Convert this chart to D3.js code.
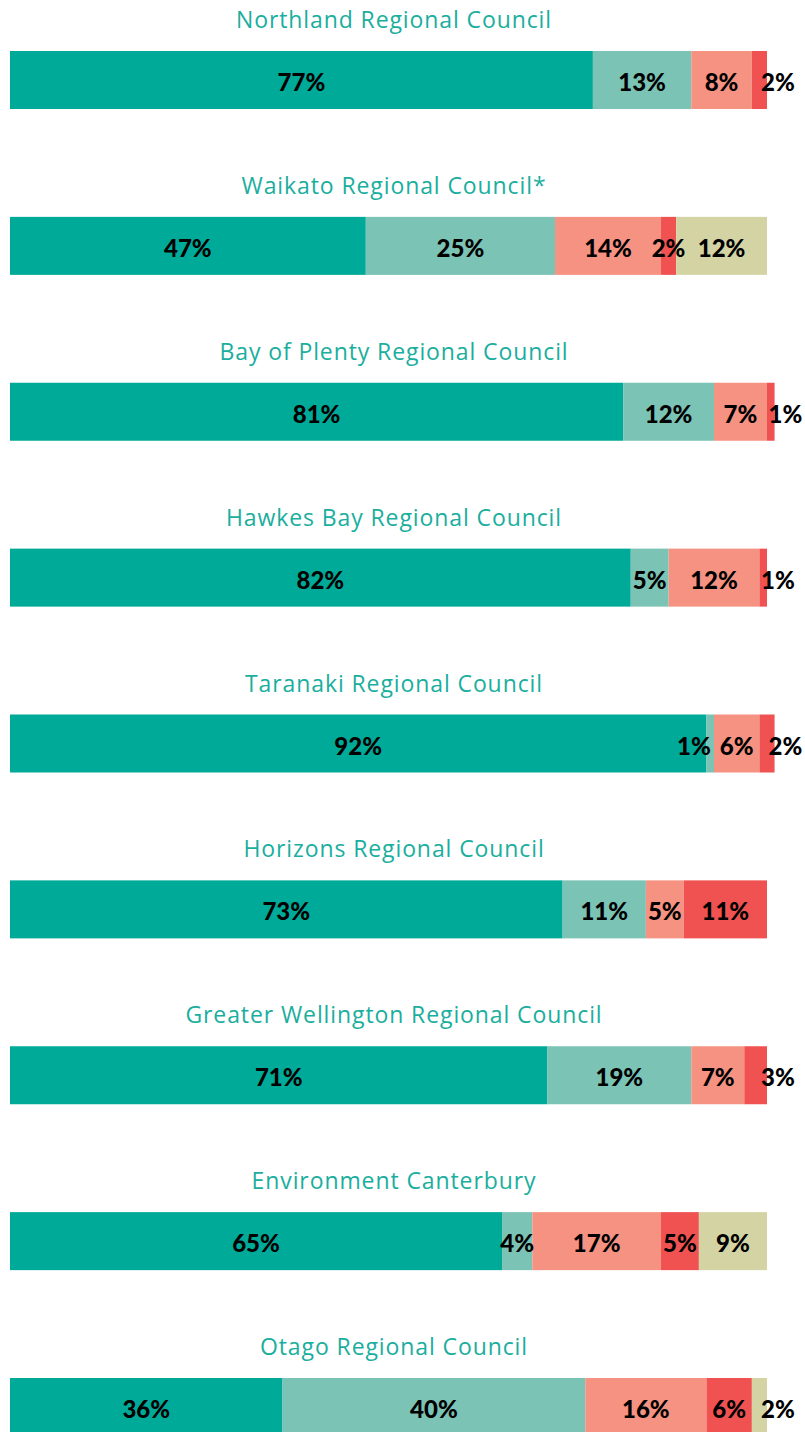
<!DOCTYPE html>
<html>
<head>
<meta charset="utf-8">
<script src="https://cdn.jsdelivr.net/npm/d3@7"></script>
<style>
  body { margin: 0; background: #fff; }
  svg { display: block; }
</style>
</head>
<body>
<svg id="chart" width="805" height="1432"></svg>
<script>
// council names, top to bottom
var councils = [
  "Northland Regional Council",
  "Waikato Regional Council*",
  "Bay of Plenty Regional Council",
  "Hawkes Bay Regional Council",
  "Taranaki Regional Council",
  "Horizons Regional Council",
  "Greater Wellington Regional Council",
  "Environment Canterbury",
  "Otago Regional Council"
];
// percentage per segment, one array for each colour band
var band1 = [77, 47, 81, 82, 92, 73, 71, 65, 36];
var band2 = [13, 25, 12, 5, 1, 11, 19, 4, 40];
var band3 = [8, 14, 7, 12, 6, 5, 7, 17, 16];
var band4 = [2, 2, 1, 1, 2, 11, 3, 5, 6];
var band5 = [0, 12, 0, 0, 0, 0, 0, 9, 2];
var bandColors = ["#00aa98", "#7ac3b5", "#f69282", "#f05252", "#d4d3a3"];

var bands = [band1, band2, band3, band4, band5];

var svg = d3.select("#chart");
var barH = 58;

var x = d3.scaleLinear().domain([0, 100]).range([10, 767]);
var y = d3.scalePoint().domain(councils).range([51, 1378]);

//build rows with stacked segments
var rows = councils.map(function(c, i) {
  var acc = 0;
  var segs = [];
  bands.forEach(function(b, j) {
    if (b[i] > 0) {
      segs.push({ v: b[i], x0: acc, x1: acc + b[i], color: bandColors[j] });
      acc += b[i];
    }
  });
  return { name: c, segs: segs };
});

var row = svg.selectAll(".row")
  .data(rows)
  .enter().append("g")
  .attr("class", "row")
  .attr("transform", function(d) { return "translate(0," + y(d.name) + ")"; });

row.append("text")
  .attr("x", 394)
  .attr("y", -23)
  .attr("text-anchor", "middle")
  .attr("fill", "#1aae9e")
  .style("font-family", "'Open Sans', Lato, sans-serif")
  .style("font-weight", 400)
  .style("font-size", "23px")
  .style("letter-spacing", "0.9px")
  .text(function(d) { return d.name; });

row.selectAll("rect")
  .data(function(d) { return d.segs; })
  .enter().append("rect")
  .attr("x", function(d) { return x(d.x0); })
  .attr("y", 0)
  .attr("width", function(d) { return x(d.x1) - x(d.x0); })
  .attr("height", barH)
  .attr("fill", function(d) { return d.color; });

// labels: centred, narrow last one sits past the end, overlaps get nudged
row.each(function(d) {
  var g = d3.select(this);
  var labels = d.segs.map(function(s) {
    var t = g.append("text")
      .attr("y", 40)
      .attr("text-anchor", "middle")
      .style("font-family", "Lato, 'Noto Sans', sans-serif")
      .style("font-weight", 900)
      .style("font-size", "24px")
      .attr("fill", "#000")
      .text(s.v + "%");
    var w = t.node().getComputedTextLength();
    return { t: t, w: w, cx: (x(s.x0) + x(s.x1)) / 2, s: s };
  });
  var gap = 9;
  var n = labels.length;
  var lastL = labels[n - 1];
  if (x(lastL.s.x1) - x(lastL.s.x0) < lastL.w + 6) {
    var left = x(lastL.s.x1) - 6;
    if (n > 1) {
      var prevRight = labels[n - 2].cx + labels[n - 2].w / 2;
      left = Math.max(left, prevRight + gap);
    }
    lastL.cx = left + lastL.w / 2;
  }
  for (var k = n - 2; k >= 0; k--) {
    var nextLeft = labels[k + 1].cx - labels[k + 1].w / 2;
    var right = labels[k].cx + labels[k].w / 2;
    if (right > nextLeft - gap) labels[k].cx -= right - (nextLeft - gap);
  }
  labels.forEach(function(l) { l.t.attr("x", l.cx); });
});
</script>
</body>
</html>
